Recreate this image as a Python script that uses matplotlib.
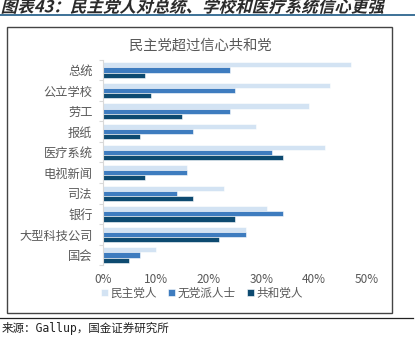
import matplotlib
matplotlib.use("Agg")
import matplotlib.pyplot as plt
import numpy as np
from matplotlib.patches import Rectangle, PathPatch
from matplotlib.lines import Line2D
from matplotlib.textpath import TextPath
from matplotlib.font_manager import FontProperties
from matplotlib.transforms import Affine2D

plt.rcParams['font.family'] = ['Noto Sans CJK SC', 'DejaVu Sans']

categories = ['总统', '公立学校', '劳工', '报纸', '医疗系统', '电视新闻', '司法', '银行', '大型科技公司', '国会']
dem = [47, 43, 39, 29, 42, 16, 23, 31, 27, 10]
ind = [24, 25, 24, 17, 32, 16, 14, 34, 27, 7]
rep = [8, 9, 15, 7, 34, 8, 17, 25, 22, 5]
series_names = ['民主党人', '无党派人士', '共和党人']
colors = ['#d3e3f3', '#3e7cbf', '#0d4a70']
xticks = [0, 10, 20, 30, 40, 50]

W, H = 415, 339
fig = plt.figure(figsize=(W / 100, H / 100), dpi=100)

# header line, footer line and chart frame
fig.add_artist(Line2D([0, 1], [1 - 14.7 / H, 1 - 14.7 / H], color='#2d668f', lw=1.3))
fig.add_artist(Line2D([0, 413 / W], [1 - 317.7 / H, 1 - 317.7 / H], color='#222222', lw=0.9))
fig.add_artist(Rectangle((7 / W, 1 - 313 / H), (392 - 7) / W, (313 - 26.7) / H,
                         transform=fig.transFigure, fill=False, edgecolor='#444444', lw=1.0))

# slanted bold header text (path in points, sheared)
fp = FontProperties(family='Noto Sans CJK SC', weight='bold')
tp = TextPath((0, 0), '图表43：民主党人对总统、学校和医疗系统信心更强', size=11.9, prop=fp)
head_tr = Affine2D().skew_deg(14, 0).translate(0.5, (H - 12.3) * 0.72).scale(1 / 72) + fig.dpi_scale_trans
fig.add_artist(PathPatch(tp, transform=head_tr, facecolor='#2b2b2b', edgecolor='none'))

fig.text(2 / W, 1 - 328 / H, '来源：Gallup，国金证券研究所', fontsize=8.3,
         family=['DejaVu Sans Mono', 'Noto Sans CJK SC'], color='#222222', va='center', ha='left')

ax = fig.add_axes([103 / W, 1 - 265.3 / H, (367 - 103) / W, (265.3 - 59.7) / H])
y = np.arange(len(categories))
h = 0.25
for i, (vals, name, c) in enumerate(zip([dem, ind, rep], series_names, colors)):
    ax.barh(y + (i - 1) * h, np.array(vals) / 100, height=h, color=c,
            edgecolor='white', lw=0.4, label=name)

ax.set_xlim(0, 0.5)
ax.set_ylim(len(categories) - 0.5, -0.5)
ax.set_yticks(y)
ax.set_yticklabels(categories, fontsize=8.8, color='#595959')
ax.set_yticks(np.arange(len(categories) + 1) - 0.5, minor=True)
ax.tick_params(axis='y', which='major', length=0, pad=7.5)
ax.tick_params(axis='y', which='minor', length=3, color='#d9d9d9', width=0.8)
ax.set_xticks(np.array(xticks) / 100)
ax.set_xticklabels([f'{t}%' for t in xticks], fontsize=8.5, color='#595959')
ax.tick_params(axis='x', length=0, pad=5.5)
for s in ['top', 'right', 'bottom']:
    ax.spines[s].set_visible(False)
ax.spines['left'].set_color('#d9d9d9')
ax.spines['left'].set_linewidth(0.8)

fig.text(200 / W, 1 - 46 / H, '民主党超过信心共和党', fontsize=10.3, color='#595959', ha='center', va='center')

handles, labels = ax.get_legend_handles_labels()
fig.legend(handles, labels, loc='center', bbox_to_anchor=(202 / W, 1 - 293 / H), ncol=3,
           frameon=False, fontsize=8.4, handlelength=0.6, handleheight=0.6, handletextpad=0.2,
           columnspacing=1.0, labelcolor='#595959')

fig.savefig('out.png', dpi=100)
